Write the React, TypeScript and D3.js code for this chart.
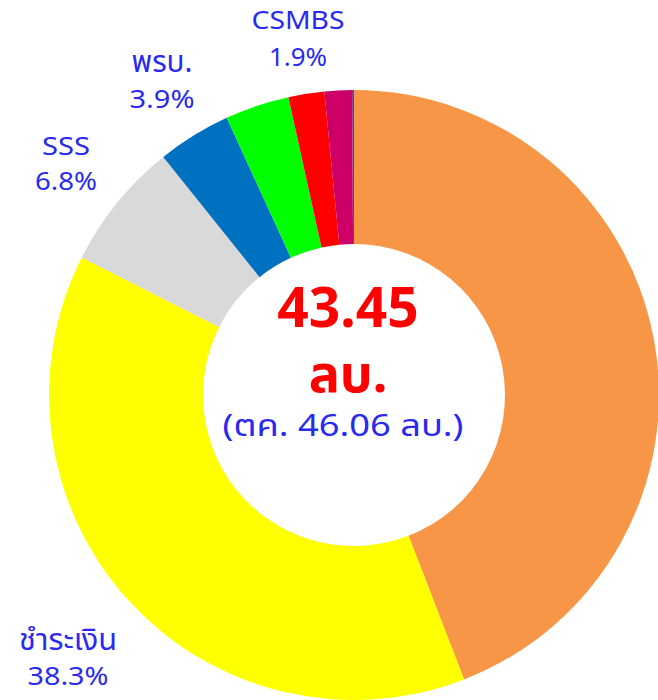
import React from "react";
import * as d3 from "d3";

const categories = ["ตค.", "ชำระเงิน", "SSS", "พรบ.", "อื่นๆ", "CSMBS", "อื่นๆ2", "อื่นๆ3"];
const values = [44.1, 38.3, 6.8, 3.9, 3.4, 1.9, 1.45, 0.1];
const colors = ["#F79646", "#FFFF00", "#D9D9D9", "#0070C0", "#00FF00", "#FF0000", "#CC0066", "#7030A0"];

const labelNames = ["CSMBS", "พรบ.", "SSS", "ชำระเงิน"];
const labelValues = ["1.9%", "3.9%", "6.8%", "38.3%"];

const centerMain = "43.45";
const centerUnit = "ลบ.";
const centerSub = "(ตค. 46.06 ลบ.)";

export default function App() {
  const W = 658, H = 700;
  const cx = 354, cy = 395, R = 305, r = 151;
  const pie = d3.pie<number>().sort(null).value((d) => d);
  const arcs = pie(values);
  const arc = d3.arc<d3.PieArcDatum<number>>().innerRadius(r).outerRadius(R);
  const font = "'Noto Sans', 'Noto Sans Thai', 'Open Sans', sans-serif";
  const blue = "#2A2AEE";
  const labelPos = [
    { x: 298, y1: 29, y2: 66, w1: 93, w2: 58, f1: 26 },
    { x: 162, y1: 72, y2: 108, w1: 61, w2: 65, f1: 30 },
    { x: 66, y1: 155, y2: 190, w1: 48, w2: 62, f1: 26 },
    { x: 68, y1: 650, y2: 685, w1: 98, w2: 81, f1: 30 },
  ];
  return (
    <svg width={W} height={H} style={{ position: "absolute", left: 0, top: 0 }} fontFamily={font}>
      <rect width={W} height={H} fill="#fff" />
      <g transform={`translate(${cx},${cy})`}>
        {arcs.map((a, i) => (
          <path key={i} d={arc(a) || ""} fill={colors[i]} />
        ))}
      </g>
      {labelNames.map((n, i) => (
        <g key={i} fill={blue} textAnchor="middle">
          <text x={labelPos[i].x} y={labelPos[i].y1} fontSize={labelPos[i].f1} textLength={labelPos[i].w1} lengthAdjust="spacingAndGlyphs">{n}</text>
          <text x={labelPos[i].x} y={labelPos[i].y2} fontSize={26} textLength={labelPos[i].w2} lengthAdjust="spacingAndGlyphs">{labelValues[i]}</text>
        </g>
      ))}
      <text x={348} y={327} fontSize={55} fontWeight="bold" fill="#FF0000" textAnchor="middle">{centerMain}</text>
      <text x={348} y={392} fontSize={52} fontWeight="bold" fill="#FF0000" textAnchor="middle">{centerUnit}</text>
      <text x={343} y={436} fontSize={30} fill={blue} textAnchor="middle" textLength={241} lengthAdjust="spacingAndGlyphs">{centerSub}</text>
    </svg>
  );
}
